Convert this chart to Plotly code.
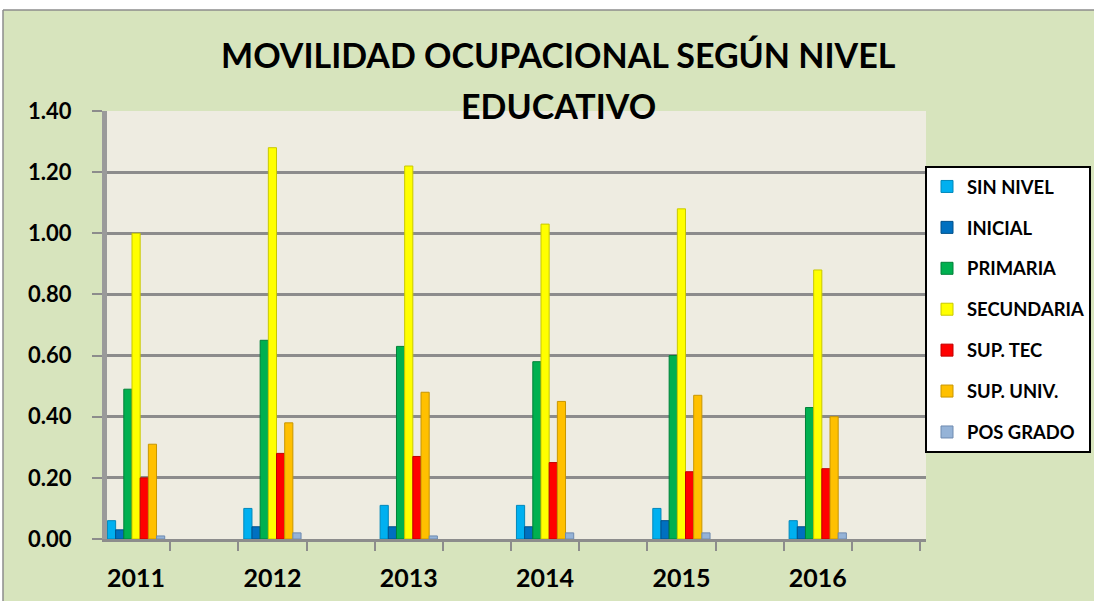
import plotly.graph_objects as go

# data
years = ["2011", "2012", "2013", "2014", "2015", "2016"]
series_names = ["SIN NIVEL", "INICIAL", "PRIMARIA", "SECUNDARIA", "SUP. TEC", "SUP. UNIV.", "POS GRADO"]
sin_nivel = [0.06, 0.10, 0.11, 0.11, 0.10, 0.06]
inicial = [0.03, 0.04, 0.04, 0.04, 0.06, 0.04]
primaria = [0.49, 0.65, 0.63, 0.58, 0.60, 0.43]
secundaria = [1.00, 1.28, 1.22, 1.03, 1.08, 0.88]
sup_tec = [0.20, 0.28, 0.27, 0.25, 0.22, 0.23]
sup_univ = [0.31, 0.38, 0.48, 0.45, 0.47, 0.40]
pos_grado = [0.01, 0.02, 0.01, 0.02, 0.02, 0.02]
y_ticks = [0.0, 0.2, 0.4, 0.6, 0.8, 1.0, 1.2, 1.4]

values = [sin_nivel, inicial, primaria, secundaria, sup_tec, sup_univ, pos_grado]
colors = ["#00B0F0", "#0070C0", "#00B050", "#FFFF00", "#FF0000", "#FFC000", "#95B3D7"]
edges = ["#0088BB", "#00508A", "#008038", "#C8C800", "#C00000", "#C89600", "#6F8BB0"]

FONT = "Lato"
GREEN_BG = "#D7E4BD"
GRID = "#8C8C8C"

# each year sits on every other slot of a 12-slot axis (blank columns between)
xpos = [2 * i for i in range(len(years))]

fig = go.Figure()
for name, vals, c, e in zip(series_names, values, colors, edges):
    fig.add_trace(go.Bar(
        x=xpos, y=vals, name=name, legendgroup=name,
        marker=dict(color=c, line=dict(color=e, width=1)),
    ))

# plot area in pixels
W, H = 1094, 601
L, R, T, B = 107, 926, 111, 539
SLOT = (920 - 102) / 12  # px per category slot, slots start at x=102


def px_x(px):
    return (px - L) / (R - L)


def px_y(py):
    return (B - py) / (B - T)


shapes = [
    # white strip above / left of the chart frame
    dict(type="rect", xref="paper", yref="paper", x0=px_x(0), x1=px_x(W), y0=px_y(10), y1=px_y(0),
         fillcolor="white", line_width=0, layer="above"),
    dict(type="rect", xref="paper", yref="paper", x0=px_x(0), x1=px_x(3), y0=px_y(H), y1=px_y(0),
         fillcolor="white", line_width=0, layer="above"),
    # frame border
    dict(type="line", xref="paper", yref="paper", x0=px_x(3), x1=px_x(W), y0=px_y(10), y1=px_y(10),
         line=dict(color="#8C8C8C", width=1.5), layer="above"),
    dict(type="line", xref="paper", yref="paper", x0=px_x(3), x1=px_x(3), y0=px_y(10), y1=px_y(H),
         line=dict(color="#8C8C8C", width=1.5), layer="above"),
]

title_font = dict(family=FONT, size=34, weight="bold", color="#000000")
annotations = [
    dict(text="MOVILIDAD OCUPACIONAL SEGÚN NIVEL", xref="paper", yref="paper",
         x=px_x(558), y=px_y(54), xanchor="center", yanchor="middle", showarrow=False, font=title_font),
    dict(text="EDUCATIVO", xref="paper", yref="paper",
         x=px_x(558), y=px_y(106), xanchor="center", yanchor="middle", showarrow=False, font=title_font),
]

fig.update_layout(
    width=W, height=H,
    margin=dict(l=L, r=W - R, t=T, b=H - B, autoexpand=False),
    paper_bgcolor=GREEN_BG,
    plot_bgcolor="#EEECE1",
    barmode="group",
    bargap=0.58,
    bargroupgap=0,
    font=dict(family=FONT, color="#000000"),
    legend=dict(
        x=px_x(925), xanchor="left",
        y=px_y(166), yanchor="top",
        bgcolor="#FFFFFF",
        bordercolor="#000000", borderwidth=2,
        font=dict(family=FONT, size=18.4, weight="bold", color="#000000"),
        tracegroupgap=14,
        itemwidth=30,
    ),
    shapes=shapes,
    annotations=annotations,
)

fig.update_yaxes(
    range=[0, 1.4],
    tickvals=y_ticks,
    tickformat=".2f",
    tickfont=dict(family=FONT, size=22, weight="bold"),
    showgrid=True, gridcolor=GRID, gridwidth=2.5,
    showline=True, linecolor="#9A9A9A", linewidth=5,
    ticks="outside", ticklen=10, tickcolor=GRID, tickwidth=2,
    ticklabelstandoff=16,
    zeroline=False,
    automargin=False,
)

fig.update_xaxes(
    range=[-0.5 + (L - 102) / SLOT, -0.5 + (R - 102) / SLOT],
    tickvals=xpos,
    ticktext=years,
    ticks="",
    tickfont=dict(family=FONT, size=25, weight="bold"),
    ticklabelstandoff=15,
    showgrid=False,
    showline=True, linecolor=GRID, linewidth=3,
    minor=dict(tickvals=[k - 0.5 for k in range(13)], ticks="outside", ticklen=9,
               tickcolor=GRID, tickwidth=2, showgrid=False),
    zeroline=False,
    automargin=False,
)

fig.write_html(
    "out.html",
    config={"displayModeBar": False},
    post_script="document.body.style.margin='0px';",
)
